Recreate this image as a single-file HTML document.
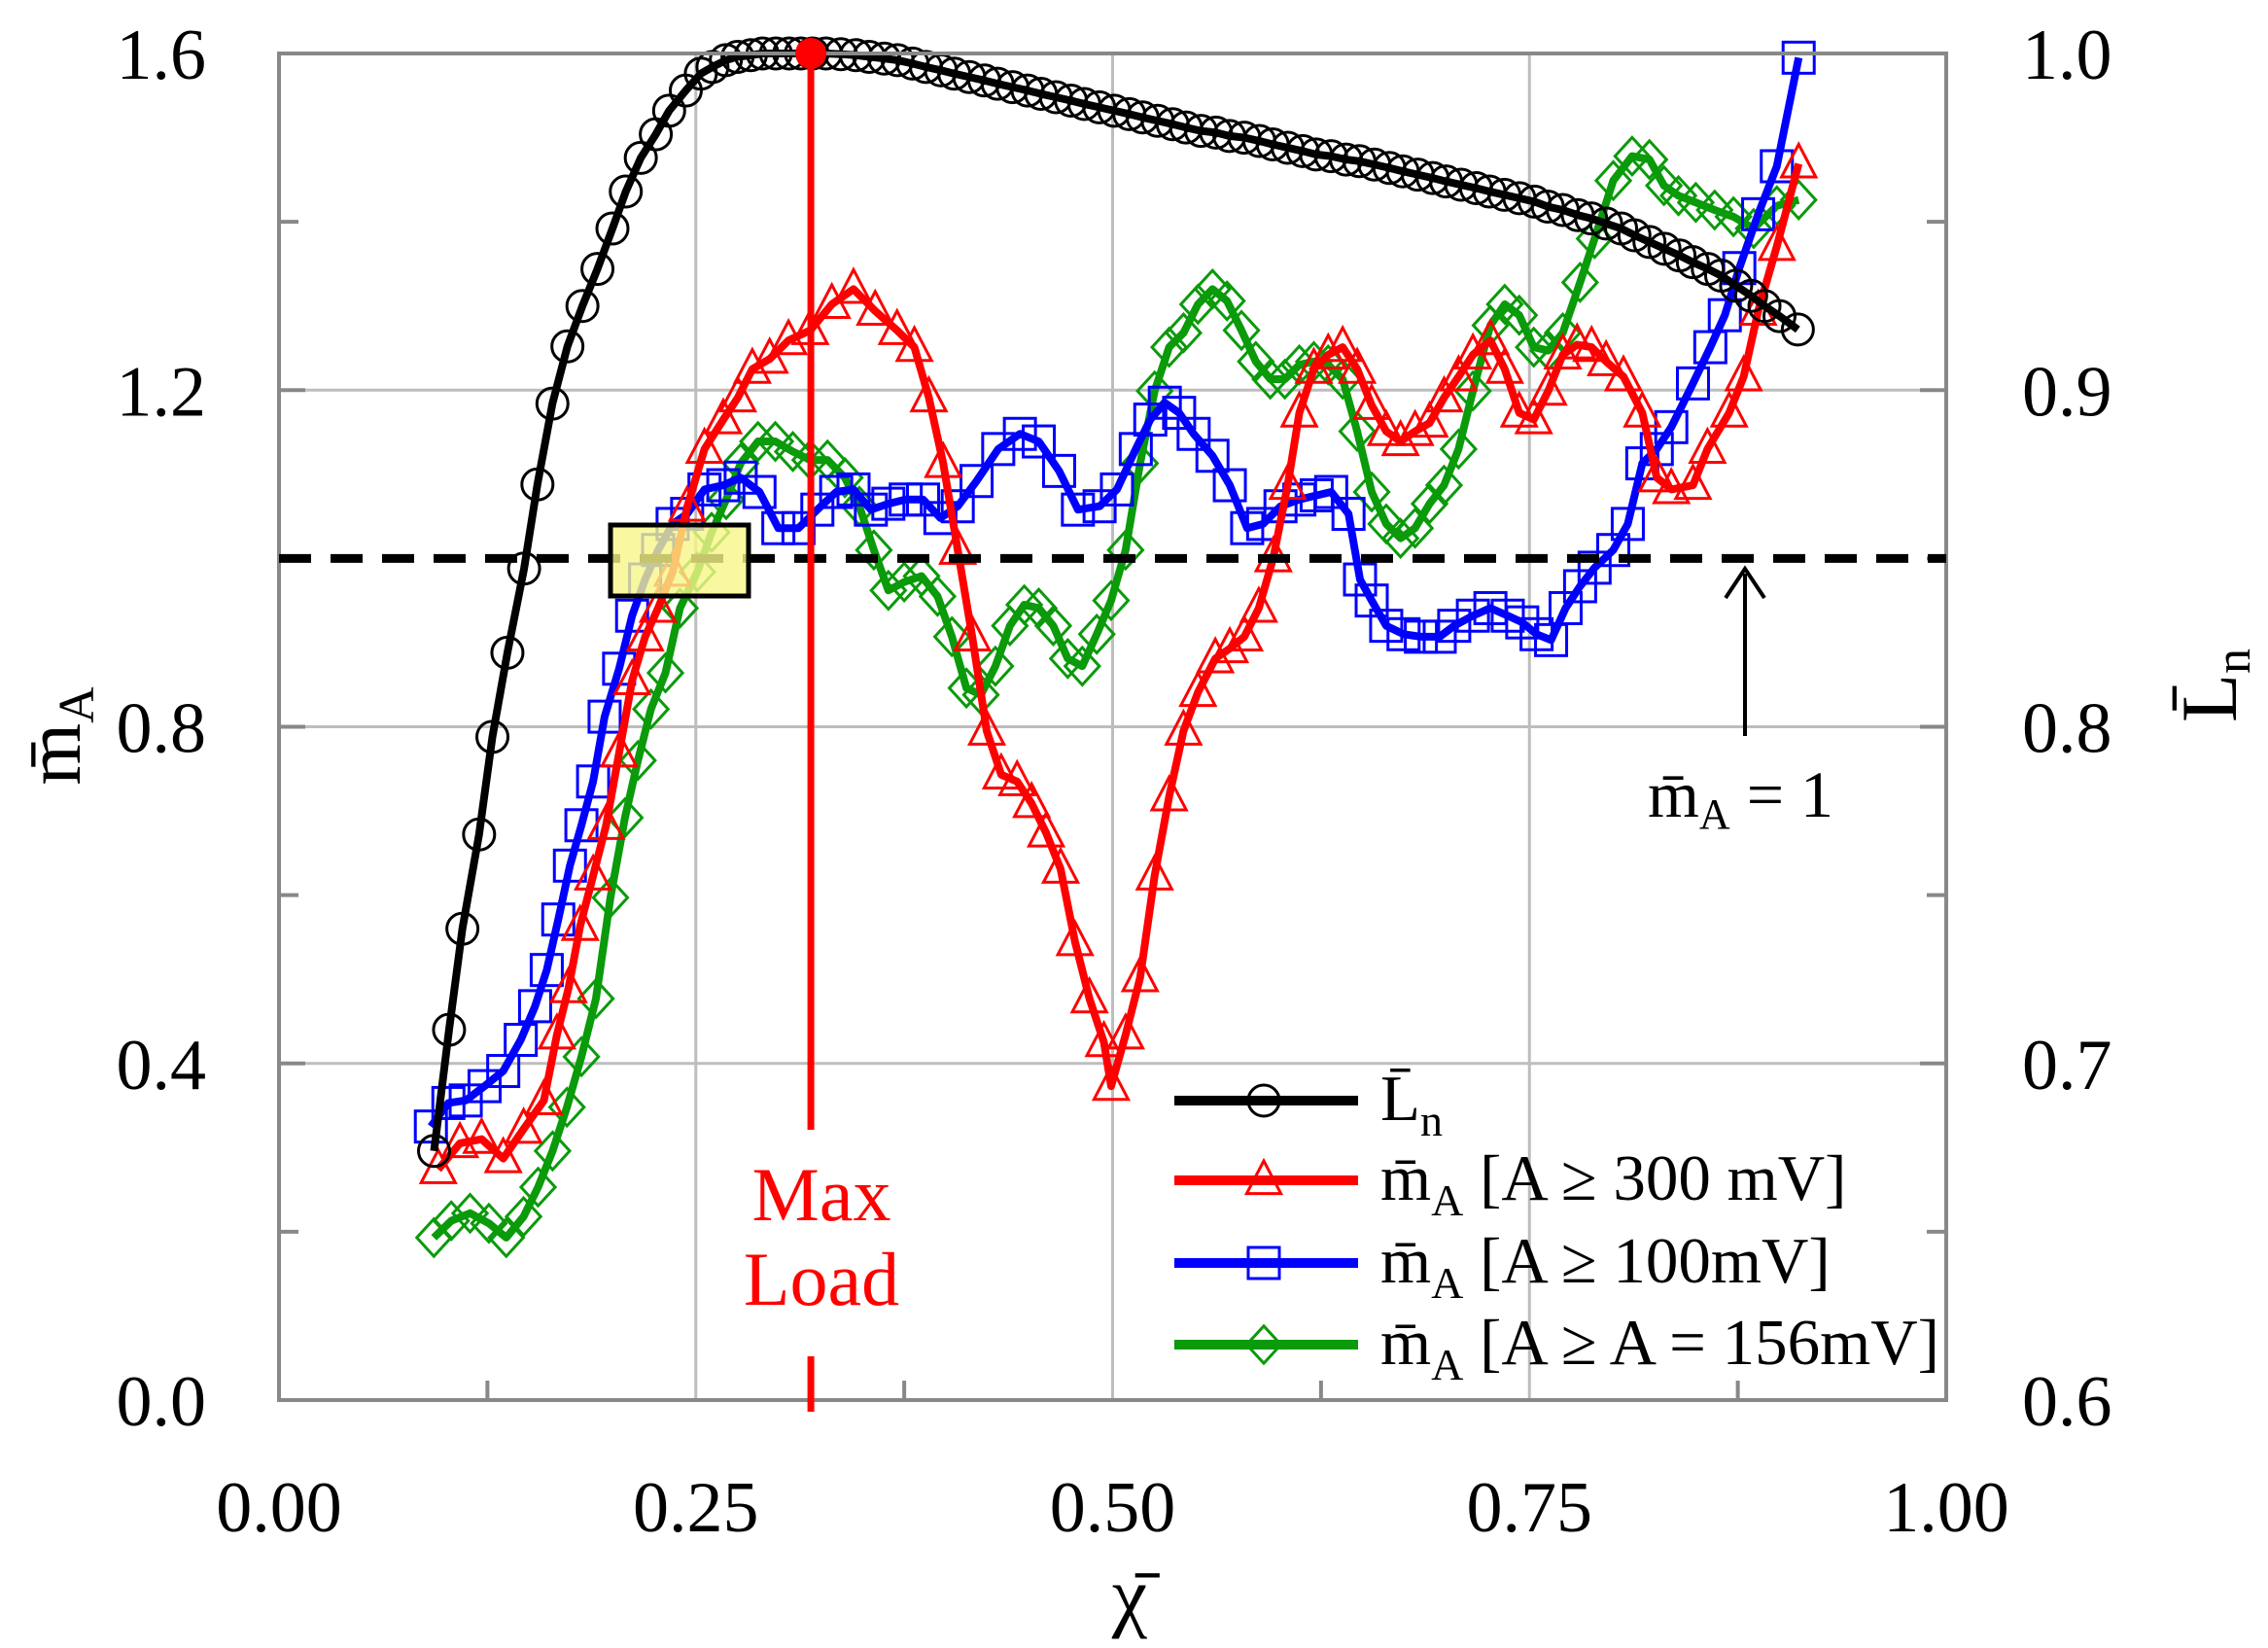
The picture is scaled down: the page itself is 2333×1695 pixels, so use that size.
<!DOCTYPE html>
<html><head><meta charset="utf-8"><style>
html,body{margin:0;padding:0;background:#fff}
svg{display:block}
text{font-family:"Liberation Serif",serif;fill:#000}
</style></head><body>
<svg id="chart" width="2333" height="1695" viewBox="0 0 2333 1695" xmlns="http://www.w3.org/2000/svg">
<g id="grid"></g>
<g id="series"></g>
<g id="axes"></g>
<g id="annot"></g>
<g id="legend"></g>
</svg>
<script>
const xTicks=[0,0.25,0.5,0.75,1.0];
const xTickLabels=["0.00","0.25","0.50","0.75","1.00"];
const yTicks=[0,0.4,0.8,1.2,1.6];
const yTickLabels=["0.0","0.4","0.8","1.2","1.6"];
const y2Ticks=[0.6,0.7,0.8,0.9,1.0];
const y2TickLabels=["0.6","0.7","0.8","0.9","1.0"];
const maxLoadX=0.319;

const lnX=[.093,.102,.110,.120,.128,.137,.147,.155,.164,.173,.182,.191,.200,.208,.217,.226,.234,.244,.253,.260,.268,.275,.283,.290,.298,.306,.313,.320,.328,.337,.346,.354,.363,.371,.380,.388,.397,.405,.414,.423,.431,.440,.449,.457,.466,.475,.483,.492,.501,.510,.518,.527,.536,.544,.553,.562,.570,.579,.588,.596,.605,.614,.622,.631,.640,.648,.657,.666,.674,.683,.692,.700,.709,.718,.726,.735,.744,.753,.761,.770,.779,.787,.796,.805,.813,.822,.831,.840,.848,.857,.865,.874,.883,.891,.900,.911];
const lnY=[.674,.710,.740,.768,.797,.822,.847,.872,.896,.913,.925,.936,.948,.959,.969,.976,.983,.989,.994,.996,.998,.999,.9995,1.0,1.0,1.0,1.0,1.0,1.0,.9998,.9995,.999,.9985,.998,.997,.996,.995,.994,.993,.992,.991,.990,.989,.988,.987,.986,.985,.984,.983,.982,.981,.980,.979,.978,.977,.9765,.9755,.975,.974,.973,.972,.971,.970,.9695,.9685,.968,.967,.966,.965,.964,.963,.962,.961,.960,.959,.958,.957,.956,.9545,.9535,.952,.951,.9495,.948,.946,.944,.942,.940,.938,.936,.934,.931,.928,.925,.922,.918];

const redX=[.0955,.1085,.1215,.1345,.1467,.1589,.1667,.1736,.1806,.1884,.1962,.2040,.2118,.2196,.2274,.2361,.2448,.2552,.2665,.2752,.2839,.2943,.3056,.3186,.3316,.3446,.3576,.3707,.3811,.3898,.3984,.4071,.4158,.4245,.4332,.4427,.4514,.4601,.4688,.4774,.4861,.4948,.4991,.5078,.5165,.5252,.5339,.5425,.5512,.5616,.5703,.5790,.5877,.5964,.6050,.6120,.6207,.6293,.6380,.6467,.6554,.6641,.6727,.6814,.6901,.6988,.7075,.7161,.7266,.7352,.7439,.7526,.7613,.7700,.7786,.7873,.7960,.8064,.8177,.8264,.8351,.8481,.8568,.8698,.8785,.8872,.8984,.9115];
const redY=[.274,.305,.310,.287,.322,.356,.434,.489,.563,.623,.683,.769,.855,.907,.941,.984,1.061,1.130,1.165,1.191,1.225,1.237,1.259,1.271,1.302,1.320,1.294,1.271,1.251,1.191,1.113,1.010,.907,.795,.743,.735,.709,.674,.631,.545,.477,.425,.373,.434,.502,.623,.717,.795,.841,.881,.893,.907,.941,1.001,1.087,1.173,1.225,1.242,1.251,1.225,1.182,1.151,1.139,1.151,1.161,1.191,1.216,1.242,1.259,1.225,1.173,1.165,1.199,1.242,1.254,1.251,1.234,1.216,1.173,1.096,1.082,1.087,1.130,1.173,1.216,1.294,1.371,1.469];

const blueX=[.0911,.1016,.1120,.1233,.1345,.1450,.1536,.1606,.1675,.1745,.1814,.1884,.1953,.2040,.2118,.2196,.2274,.2361,.2448,.2552,.2665,.2769,.2882,.2995,.3116,.3229,.3342,.3446,.3550,.3655,.3759,.3863,.3967,.4071,.4184,.4314,.4444,.4557,.4679,.4792,.4922,.5026,.5139,.5226,.5313,.5399,.5486,.5599,.5703,.5807,.5903,.6007,.6120,.6224,.6311,.6415,.6484,.6554,.6641,.6745,.6849,.6962,.7049,.7161,.7266,.7370,.7457,.7543,.7630,.7717,.7804,.7891,.8003,.8090,.8177,.8264,.8351,.8481,.8585,.8672,.8759,.8872,.8984,.9115];
const blueY=[.325,.353,.356,.373,.391,.428,.468,.511,.571,.635,.683,.735,.812,.869,.932,.975,1.010,1.041,1.053,1.082,1.087,1.096,1.079,1.036,1.036,1.058,1.079,1.082,1.058,1.065,1.070,1.070,1.048,1.062,1.092,1.130,1.148,1.139,1.104,1.058,1.062,1.082,1.130,1.165,1.185,1.173,1.148,1.122,1.087,1.036,1.041,1.062,1.070,1.075,1.079,1.053,.975,.950,.920,.910,.907,.907,.920,.932,.941,.932,.924,.910,.903,.941,.967,.989,1.010,1.041,1.113,1.130,1.156,1.208,1.251,1.289,1.345,1.409,1.466,1.595];

const greenX=[.0929,.1033,.1146,.1259,.1363,.1467,.1554,.1641,.1727,.1814,.1901,.1988,.2075,.2153,.2231,.2318,.2405,.2509,.2595,.2682,.2769,.2873,.2977,.3082,.3186,.3290,.3394,.3481,.3568,.3655,.3750,.3854,.3950,.4036,.4123,.4210,.4297,.4384,.4470,.4557,.4644,.4731,.4818,.4905,.4991,.5078,.5165,.5252,.5339,.5425,.5512,.5599,.5686,.5773,.5859,.5946,.6033,.6120,.6207,.6293,.6380,.6467,.6554,.6641,.6727,.6814,.6901,.6988,.7075,.7161,.7266,.7352,.7439,.7526,.7613,.7700,.7804,.7891,.8003,.8116,.8220,.8307,.8394,.8498,.8611,.8724,.8845,.8984,.9115];
const greenY=[.193,.213,.222,.210,.193,.218,.253,.296,.348,.408,.477,.597,.692,.760,.821,.864,.941,.984,1.031,1.070,1.113,1.139,1.139,1.127,1.117,1.117,1.096,1.062,1.010,.962,.972,.979,.955,.907,.846,.838,.872,.920,.945,.941,.920,.881,.872,.910,.950,1.010,1.113,1.199,1.251,1.268,1.302,1.320,1.306,1.271,1.234,1.213,1.213,1.230,1.234,1.230,1.213,1.151,1.079,1.041,1.024,1.036,1.065,1.087,1.130,1.199,1.277,1.302,1.289,1.251,1.247,1.268,1.328,1.380,1.449,1.478,1.474,1.443,1.431,1.423,1.414,1.406,1.392,1.419,1.426];

const NS="http://www.w3.org/2000/svg";
const L=287,R=2002,T=55,B=1440;
const X=v=>L+v*(R-L);
const Y=v=>B-v/1.6*(B-T);
const Y2=v=>B-(v-0.6)/0.4*(B-T);
function mk(tag,attrs,parent,txt){const e=document.createElementNS(NS,tag);for(const k in attrs)e.setAttribute(k,attrs[k]);if(txt!==undefined)e.textContent=txt;parent.appendChild(e);return e;}
const grid=document.getElementById('grid'),axes=document.getElementById('axes'),ser=document.getElementById('series'),ann=document.getElementById('annot'),leg=document.getElementById('legend');

[0.25,0.5,0.75].forEach(v=>{const g=mk('line',{x1:X(v),x2:X(v),y1:T,y2:B,stroke:'#bdbdbd','stroke-width':3},grid);

});
[0.4,0.8,1.2,1.6].forEach(v=>{const g=mk('line',{x1:L,x2:R,y1:Y(v),y2:Y(v),stroke:'#bdbdbd','stroke-width':3},grid);

});
const fr=mk('rect',{x:L,y:T,width:R-L,height:B-T,fill:'none',stroke:'#888','stroke-width':4},axes);


for(let v=0.2;v<1.6;v+=0.4){mk('line',{x1:L,x2:L+20,y1:Y(v),y2:Y(v),stroke:'#888','stroke-width':4},axes);}
yTicks.forEach(v=>{mk('line',{x1:L,x2:L+27,y1:Y(v),y2:Y(v),stroke:'#888','stroke-width':4},axes);});
for(let v=0.125;v<1;v+=0.25){mk('line',{x1:X(v),x2:X(v),y1:B,y2:B-20,stroke:'#888','stroke-width':4},axes);}
for(let v=0.65;v<1;v+=0.1){mk('line',{x1:R-20,x2:R,y1:Y2(v),y2:Y2(v),stroke:'#888','stroke-width':4},axes);}
y2Ticks.forEach(v=>{mk('line',{x1:R-27,x2:R,y1:Y2(v),y2:Y2(v),stroke:'#888','stroke-width':4},axes);});
xTicks.forEach((v,i)=>{const t=mk('text',{x:X(v),y:1575,'font-size':74,'text-anchor':'middle'},axes,xTickLabels[i]);

});
yTicks.forEach((v,i)=>{const t=mk('text',{x:212,y:Y(v)+26,'font-size':74,'text-anchor':'end'},axes,yTickLabels[i]);

});
y2Ticks.forEach((v,i)=>{const t=mk('text',{x:2080,y:Y2(v)+26,'font-size':74},axes,y2TickLabels[i]);

});
const xt=mk('text',{x:1162,y:1668,'font-size':82,'text-anchor':'middle'},axes,'χ̄');


const yt=mk('text',{x:0,y:0,'font-size':82,transform:'translate(82,757) rotate(-90)','text-anchor':'middle'},axes);


mk('tspan',{},yt,'m̄');mk('tspan',{'font-size':52,dy:14},yt,'A');
const y2t=mk('text',{x:0,y:0,'font-size':82,transform:'translate(2300,705) rotate(-90)','text-anchor':'middle'},axes);


mk('tspan',{},y2t,'L̄');mk('tspan',{'font-size':52,dy:14},y2t,'n');

const dl=mk('line',{x1:L,x2:R,y1:Y(1),y2:Y(1),stroke:'#000','stroke-width':9,'stroke-dasharray':'33 20'},ann);



function marker(type,cx,cy,color,g){
  const s=16;
  if(type==='circle') return mk('circle',{cx,cy,r:s,fill:'none',stroke:color,'stroke-width':3},g);
  if(type==='tri') return mk('polygon',{points:`${cx},${cy-s*1.25} ${cx-s*1.1},${cy+s*0.85} ${cx+s*1.1},${cy+s*0.85}`,fill:'none',stroke:color,'stroke-width':3},g);
  if(type==='sq') return mk('rect',{x:cx-s,y:cy-s,width:2*s,height:2*s,fill:'none',stroke:color,'stroke-width':3},g);
  if(type==='dia') return mk('polygon',{points:`${cx},${cy-s*1.2} ${cx+s*1.1},${cy} ${cx},${cy+s*1.2} ${cx-s*1.1},${cy}`,fill:'none',stroke:color,'stroke-width':3},g);
}
function series(xs,ys,yf,color,type,name){
  const g=mk('g',{},ser);
  
  
  xs.forEach((x,i)=>{const m=marker(type,X(x),yf(ys[i]),color,g);
    
    });
  const p=mk('polyline',{points:xs.map((x,i)=>X(x)+','+yf(ys[i])).join(' '),fill:'none',stroke:color,'stroke-width':8,'stroke-linejoin':'round'},g);
  
  
}
series(greenX,greenY,Y,'#0a9a0a','dia','series-ma-156mv');
series(blueX,blueY,Y,'#0000ff','sq','series-ma-100mv');
series(redX,redY,Y,'#ff0000','tri','series-ma-300mv');
series(lnX,lnY,Y2,'#000','circle','series-ln');

const mlx=X(maxLoadX);
const ml=mk('line',{x1:mlx,x2:mlx,y1:T,y2:1162,stroke:'#ff0000','stroke-width':7},ann);


mk('line',{x1:mlx,x2:mlx,y1:1395,y2:1452,stroke:'#ff0000','stroke-width':7},ann);
const md=mk('circle',{cx:mlx,cy:T,r:16,fill:'#ff0000'},ann);


const mt=mk('text',{x:845,y:1255,'font-size':78,'text-anchor':'middle',style:'fill:#ff0000'},ann,'Max');


mk('text',{x:845,y:1342,'font-size':78,'text-anchor':'middle',style:'fill:#ff0000'},ann,'Load');
const yb=mk('rect',{x:628,y:540,width:142,height:73,fill:'#f8f68a','fill-opacity':0.8,stroke:'#000','stroke-width':5},ann);


const ar=mk('line',{x1:1795,x2:1795,y1:590,y2:757,stroke:'#000','stroke-width':4},ann);


mk('polyline',{points:'1775,615 1795,585 1815,615',fill:'none',stroke:'#000','stroke-width':4},ann);
const at=mk('text',{x:1695,y:840,'font-size':68},ann);


mk('tspan',{},at,'m̄');mk('tspan',{'font-size':44,dy:12},at,'A');mk('tspan',{dy:-12},at,' = 1');

const items=[['circle','#000',1132,[['L̄',''],['n','sub']]],['tri','#ff0000',1214,[['m̄',''],['A','sub'],[' [A ≥ 300 mV]','']]],['sq','#0000ff',1299,[['m̄',''],['A','sub'],[' [A ≥ 100mV]','']]],['dia','#0a9a0a',1383,[['m̄',''],['A','sub'],[' [A ≥ A = 156mV]','']]]];
items.forEach(it=>{
  const g=mk('g',{},leg);
  
  
  mk('line',{x1:1208,x2:1397,y1:it[2],y2:it[2],stroke:it[1],'stroke-width':10},g);
  marker(it[0],1300,it[2],it[1],g);
  const t=mk('text',{x:1420,y:it[2]+20,'font-size':67},g);
  let sub=false;
  it[3].forEach(p=>{if(p[1]==='sub'){mk('tspan',{'font-size':46,dy:16},t,p[0]);sub=true;}else{mk('tspan',sub?{dy:-16}:{},t,p[0]);sub=false;}});
});
</script>
</body></html>
